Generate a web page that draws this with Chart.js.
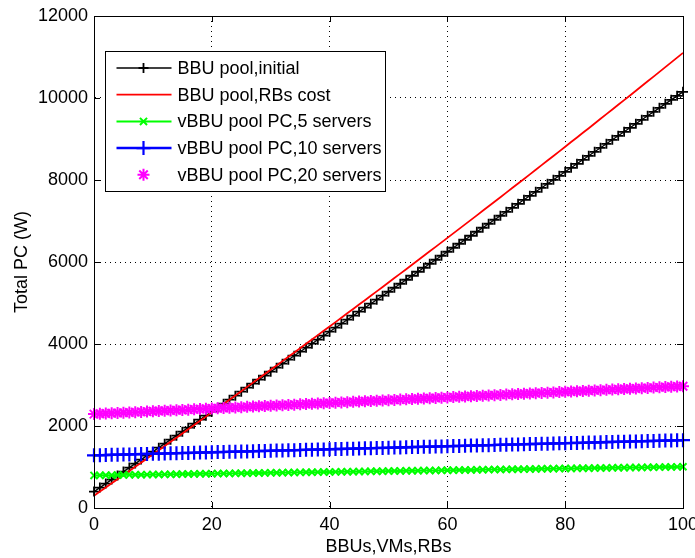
<!DOCTYPE html>
<html>
<head>
<meta charset="utf-8">
<script src="https://cdn.jsdelivr.net/npm/chart.js@4/dist/chart.umd.min.js"></script>
<style>
  html, body { margin: 0; padding: 0; background: #fff; }
  canvas { display: block; }
</style>
</head>
<body>
<canvas id="pcChart" width="695" height="558"></canvas>
<script>
// ===============================
//  DATA
// ===============================
const X_VALUES = [
    0, 1, 2, 3, 4, 5, 6, 7, 8, 9, 10, 11, 12, 13, 14, 15, 16, 17, 18, 19,
    20, 21, 22, 23, 24, 25, 26, 27, 28, 29, 30, 31, 32, 33, 34, 35, 36, 37, 38, 39,
    40, 41, 42, 43, 44, 45, 46, 47, 48, 49, 50, 51, 52, 53, 54, 55, 56, 57, 58, 59,
    60, 61, 62, 63, 64, 65, 66, 67, 68, 69, 70, 71, 72, 73, 74, 75, 76, 77, 78, 79,
    80, 81, 82, 83, 84, 85, 86, 87, 88, 89, 90, 91, 92, 93, 94, 95, 96, 97, 98, 99, 100
];

const BBU_INITIAL = [
    400, 497.5, 595, 692.5, 790, 887.5, 985, 1082.5, 1180, 1277.5,
    1375, 1472.5, 1570, 1667.5, 1765, 1862.5, 1960, 2057.5, 2155, 2252.5,
    2350, 2447.5, 2545, 2642.5, 2740, 2837.5, 2935, 3032.5, 3130, 3227.5,
    3325, 3422.5, 3520, 3617.5, 3715, 3812.5, 3910, 4007.5, 4105, 4202.5,
    4300, 4397.5, 4495, 4592.5, 4690, 4787.5, 4885, 4982.5, 5080, 5177.5,
    5275, 5372.5, 5470, 5567.5, 5665, 5762.5, 5860, 5957.5, 6055, 6152.5,
    6250, 6347.5, 6445, 6542.5, 6640, 6737.5, 6835, 6932.5, 7030, 7127.5,
    7225, 7322.5, 7420, 7517.5, 7615, 7712.5, 7810, 7907.5, 8005, 8102.5,
    8200, 8297.5, 8395, 8492.5, 8590, 8687.5, 8785, 8882.5, 8980, 9077.5,
    9175, 9272.5, 9370, 9467.5, 9565, 9662.5, 9760, 9857.5, 9955, 10052.5,
    10150
];

const BBU_RB_COST = [
    300, 400, 500, 601, 701, 802, 903, 1004, 1105, 1206,
    1308, 1410, 1512, 1614, 1716, 1818, 1920, 2023, 2126, 2229,
    2332, 2435, 2539, 2642, 2746, 2850, 2954, 3058, 3163, 3267,
    3372, 3477, 3582, 3687, 3792, 3898, 4004, 4110, 4216, 4322,
    4428, 4534, 4641, 4748, 4855, 4962, 5069, 5177, 5284, 5392,
    5500, 5608, 5716, 5825, 5933, 6042, 6151, 6260, 6369, 6478,
    6588, 6698, 6808, 6918, 7028, 7138, 7248, 7359, 7470, 7581,
    7692, 7803, 7915, 8026, 8138, 8250, 8362, 8474, 8587, 8699,
    8812, 8925, 9038, 9151, 9264, 9378, 9492, 9606, 9720, 9834,
    9948, 10062, 10177, 10292, 10407, 10522, 10637, 10753, 10868, 10984,
    11100
];

const VBBU_5_SERVERS = [
    795, 797, 799, 801, 803, 806, 808, 810, 812, 814,
    816, 818, 820, 822, 824, 827, 829, 831, 833, 835,
    837, 839, 841, 843, 845, 848, 850, 852, 854, 856,
    858, 860, 862, 864, 866, 869, 871, 873, 875, 877,
    879, 881, 883, 885, 887, 890, 892, 894, 896, 898,
    900, 902, 904, 906, 908, 911, 913, 915, 917, 919,
    921, 923, 925, 927, 929, 932, 934, 936, 938, 940,
    942, 944, 946, 948, 950, 953, 955, 957, 959, 961,
    963, 965, 967, 969, 971, 974, 976, 978, 980, 982,
    984, 986, 988, 990, 992, 995, 997, 999, 1001, 1003,
    1005
];

const VBBU_10_SERVERS = [
    1285, 1289, 1292, 1296, 1300, 1304, 1307, 1311, 1315, 1318,
    1322, 1326, 1329, 1333, 1337, 1341, 1344, 1348, 1352, 1355,
    1359, 1363, 1366, 1370, 1374, 1378, 1381, 1385, 1389, 1392,
    1396, 1400, 1403, 1407, 1411, 1415, 1418, 1422, 1426, 1429,
    1433, 1437, 1440, 1444, 1448, 1452, 1455, 1459, 1463, 1466,
    1470, 1474, 1477, 1481, 1485, 1489, 1492, 1496, 1500, 1503,
    1507, 1511, 1514, 1518, 1522, 1526, 1529, 1533, 1537, 1540,
    1544, 1548, 1551, 1555, 1559, 1563, 1566, 1570, 1574, 1577,
    1581, 1585, 1588, 1592, 1596, 1600, 1603, 1607, 1611, 1614,
    1618, 1622, 1625, 1629, 1633, 1637, 1640, 1644, 1648, 1651,
    1655
];

const VBBU_20_SERVERS = [
    2290, 2297, 2304, 2310, 2317, 2324, 2331, 2338, 2344, 2351,
    2358, 2365, 2372, 2378, 2385, 2392, 2399, 2406, 2412, 2419,
    2426, 2433, 2440, 2446, 2453, 2460, 2467, 2474, 2480, 2487,
    2494, 2501, 2508, 2514, 2521, 2528, 2535, 2542, 2548, 2555,
    2562, 2569, 2576, 2582, 2589, 2596, 2603, 2610, 2616, 2623,
    2630, 2637, 2644, 2650, 2657, 2664, 2671, 2678, 2684, 2691,
    2698, 2705, 2712, 2718, 2725, 2732, 2739, 2746, 2752, 2759,
    2766, 2773, 2780, 2786, 2793, 2800, 2807, 2814, 2820, 2827,
    2834, 2841, 2848, 2854, 2861, 2868, 2875, 2882, 2888, 2895,
    2902, 2909, 2916, 2922, 2929, 2936, 2943, 2950, 2956, 2963,
    2970
];

const X_TICKS = [0, 20, 40, 60, 80, 100];
const Y_TICKS = [0, 2000, 4000, 6000, 8000, 10000, 12000];

const FONT_FAMILY = "'Liberation Sans', Arial, Helvetica, sans-serif";

function toPoints(ys) {
    return X_VALUES.map((x, i) => ({ x: x, y: ys[i] }));
}

// ===============================
//  AXES BOX + INWARD TICKS
// ===============================
const axesFrame = {
    id: "axesFrame",
    afterDraw(chart) {
        const { ctx, chartArea: a, scales } = chart;
        const len = 6;
        ctx.save();
        ctx.strokeStyle = "#000";
        ctx.lineWidth = 1;
        ctx.beginPath();
        X_TICKS.forEach(v => {
            const x = Math.round(scales.x.getPixelForValue(v)) + 0.5;
            ctx.moveTo(x, a.bottom); ctx.lineTo(x, a.bottom - len);
            ctx.moveTo(x, a.top); ctx.lineTo(x, a.top + len);
        });
        Y_TICKS.forEach(v => {
            const y = Math.round(scales.y.getPixelForValue(v)) + 0.5;
            ctx.moveTo(a.left, y); ctx.lineTo(a.left + len, y);
            ctx.moveTo(a.right, y); ctx.lineTo(a.right - len, y);
        });
        ctx.stroke();
        ctx.strokeRect(Math.round(a.left) + 0.5, Math.round(a.top) + 0.5,
            Math.round(a.right - a.left), Math.round(a.bottom - a.top));
        ctx.restore();
    }
};

// ===============================
//  LEGEND BOX (inside plot)
// ===============================
const legendBox = {
    id: "legendBox",
    afterDatasetsDraw(chart) {
        const { ctx, chartArea: a } = chart;
        const x0 = Math.round(a.left) + 11.5;
        const y0 = Math.round(a.top) + 35.5;
        const w = 280, h = 140;
        ctx.save();
        ctx.fillStyle = "#fff";
        ctx.fillRect(x0, y0, w, h);
        ctx.strokeStyle = "#000";
        ctx.lineWidth = 1;
        ctx.strokeRect(x0, y0, w, h);

        ctx.font = "18px " + FONT_FAMILY;
        ctx.textBaseline = "middle";
        ctx.textAlign = "left";

        chart.data.datasets.forEach((ds, i) => {
            const y = y0 + 16.5 + i * 26.7;
            if (ds.showLine !== false) {
                ctx.strokeStyle = ds.borderColor;
                ctx.lineWidth = ds.borderWidth;
                ctx.beginPath();
                ctx.moveTo(x0 + 11, y);
                ctx.lineTo(x0 + 66, y);
                ctx.stroke();
            }
            if (ds.pointRadius > 0) {
                ctx.strokeStyle = ds.pointBorderColor;
                ctx.fillStyle = ds.pointBorderColor;
                ctx.lineWidth = ds.pointBorderWidth;
                Chart.helpers.drawPoint(ctx, {
                    pointStyle: ds.pointStyle,
                    radius: ds.pointRadius,
                    borderWidth: ds.pointBorderWidth,
                    rotation: 0
                }, x0 + 38, y);
            }
            ctx.fillStyle = "#000";
            ctx.fillText(ds.label, x0 + 72, y + 1);
        });
        ctx.restore();
    }
};

// ===============================
//  BUILD CHART
// ===============================
function series(label, ys, colour, style, radius, lineWidth, markerWidth, order, showLine) {
    return {
        label: label,
        data: toPoints(ys),
        borderColor: colour,
        backgroundColor: colour,
        borderWidth: lineWidth,
        pointStyle: style,
        pointRadius: radius,
        pointBorderColor: colour,
        pointBackgroundColor: colour,
        pointBorderWidth: markerWidth,
        pointHoverRadius: radius,
        showLine: showLine,
        tension: 0,
        clip: false,
        order: order
    };
}

function buildChart() {
    const ctx = document.getElementById("pcChart");

    new Chart(ctx, {
        type: "line",
        data: {
            datasets: [
                series("BBU pool,initial", BBU_INITIAL, "#000000", "cross", 5, 1.3, 1.8, 5, true),
                series("BBU pool,RBs cost", BBU_RB_COST, "#ff0000", false, 0, 1.8, 1, 4, true),
                series("vBBU pool PC,5 servers", VBBU_5_SERVERS, "#00ff00", "crossRot", 5, 2, 2, 3, true),
                series("vBBU pool PC,10 servers", VBBU_10_SERVERS, "#0000ff", "cross", 7, 2.5, 2.2, 2, true),
                series("vBBU pool PC,20 servers", VBBU_20_SERVERS, "#ff00ff", "star", 6, 1, 2, 1, false)
            ]
        },
        options: {
            responsive: false,
            animation: false,
            devicePixelRatio: 1,
            layout: { padding: { top: 16, right: 12, left: 0, bottom: 0 } },
            plugins: {
                legend: { display: false },
                tooltip: { enabled: false }
            },
            scales: {
                x: {
                    type: "linear",
                    min: 0,
                    max: 100,
                    afterBuildTicks: s => { s.ticks = X_TICKS.map(v => ({ value: v })); },
                    afterFit: s => { s.height = 50; s.paddingLeft = 0; s.paddingRight = 0; },
                    grid: {
                        color: c => (c.tick.value === 0 || c.tick.value === 100) ? "rgba(0,0,0,0)" : "#000",
                        lineWidth: 1,
                        drawTicks: false
                    },
                    border: { display: true, color: "#000", dash: [1, 4] },
                    ticks: {
                        padding: 6,
                        color: "#000",
                        maxRotation: 0,
                        callback: v => String(v),
                        font: { family: FONT_FAMILY, size: 18 }
                    },
                    title: {
                        display: true,
                        text: "BBUs,VMs,RBs",
                        color: "#000",
                        padding: { top: 0, bottom: 0 },
                        font: { family: FONT_FAMILY, size: 18 }
                    }
                },
                y: {
                    type: "linear",
                    min: 0,
                    max: 12000,
                    afterBuildTicks: s => { s.ticks = Y_TICKS.map(v => ({ value: v })); },
                    afterFit: s => { s.width = 94; s.paddingTop = 0; s.paddingBottom = 0; },
                    grid: {
                        color: c => (c.tick.value === 0 || c.tick.value === 12000) ? "rgba(0,0,0,0)" : "#000",
                        lineWidth: 1,
                        drawTicks: false
                    },
                    border: { display: true, color: "#000", dash: [1, 4] },
                    ticks: {
                        padding: 6,
                        color: "#000",
                        callback: v => String(v),
                        font: { family: FONT_FAMILY, size: 18 }
                    },
                    title: {
                        display: true,
                        text: "Total PC (W)",
                        color: "#000",
                        padding: { top: 11, bottom: 0 },
                        font: { family: FONT_FAMILY, size: 18 }
                    }
                }
            }
        },
        plugins: [legendBox, axesFrame]
    });
}

buildChart();
</script>
</body>
</html>
